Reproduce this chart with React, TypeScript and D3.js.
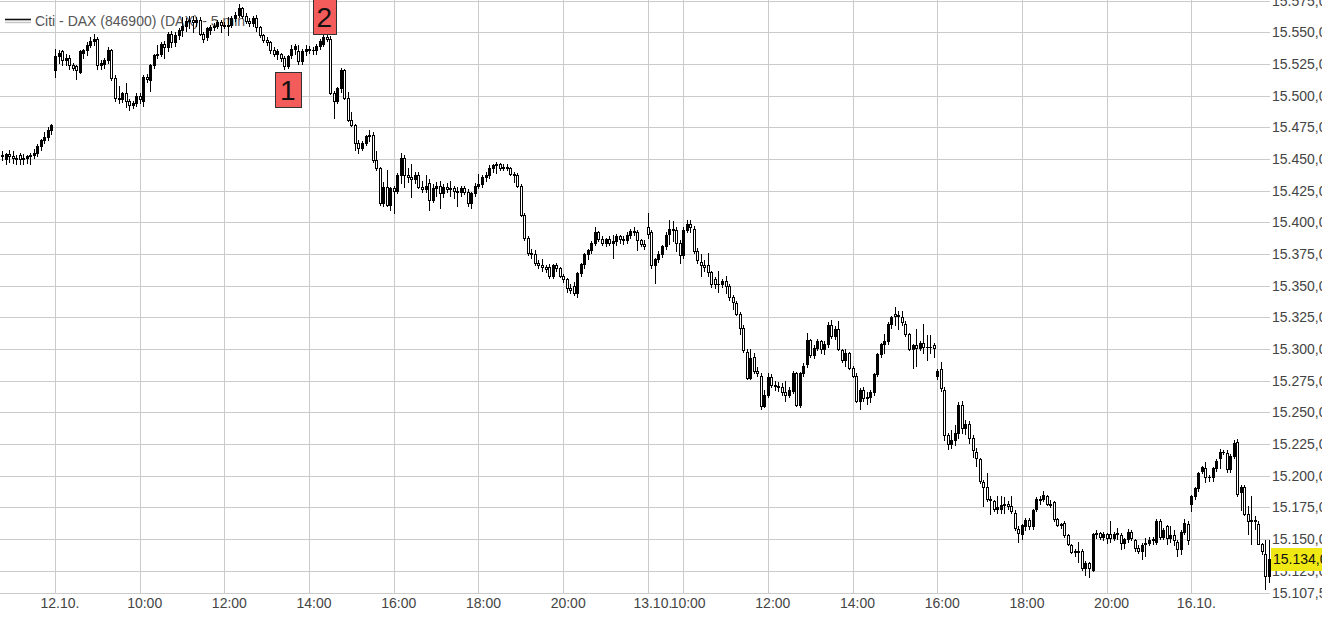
import React from 'react';
import * as d3 from 'd3';

type OHLC = [number, number, number, number]; // open, high, low, close

// 11.10. evening (5 min)
const eveningCandles: OHLC[] = [
  [15453,15456,15449,15452],[15450,15455,15446,15454],[15454,15457,15448,15452],[15452,15456,15447,15451],
  [15451,15453,15446,15450],[15453,15455,15446,15450],[15450,15454,15446,15451],[15451,15453,15447,15452],
  [15452,15455,15446,15453],[15453,15458,15451,15455],[15455,15462,15452,15460],[15460,15466,15457,15465],
  [15465,15471,15463,15467],[15467,15475,15465,15473],[15473,15478,15470,15477],
];

// 12.10.
const day1Candles: OHLC[] = [
  [15520,15537,15515,15531],[15531,15536,15526,15534],[15535,15536,15524,15528],[15528,15533,15524,15530],
  [15530,15532,15521,15524],[15524,15526,15520,15522],[15523,15524,15513,15520],[15519,15536,15518,15535],
  [15534,15537,15530,15536],[15536,15542,15532,15540],[15540,15546,15538,15543],[15543,15549,15540,15545],
  [15545,15546,15521,15524],[15524,15528,15521,15526],[15525,15530,15522,15528],[15528,15538,15526,15536],
  [15536,15537,15512,15514],[15514,15516,15496,15498],[15498,15508,15494,15497],[15497,15503,15495,15502],
  [15502,15510,15491,15496],[15496,15497,15489,15493],[15493,15496,15490,15494],[15494,15502,15492,15500],
  [15500,15502,15494,15497],[15496,15516,15492,15515],[15515,15517,15511,15513],[15512,15525,15504,15524],
  [15524,15533,15522,15532],[15532,15540,15530,15533],[15533,15542,15531,15541],[15541,15543,15530,15538],
  [15538,15550,15535,15549],[15549,15551,15538,15542],[15542,15550,15539,15548],[15548,15553,15545,15552],
  [15552,15562,15547,15555],[15555,15561,15551,15559],[15559,15563,15553,15560],[15560,15563,15550,15558],
  [15558,15562,15555,15560],[15560,15562,15548,15549],[15549,15550,15542,15545],[15546,15554,15544,15553],
  [15552,15556,15549,15554],[15554,15557,15552,15555],[15555,15560,15553,15558],[15558,15560,15550,15556],
  [15556,15558,15553,15555],[15555,15562,15548,15556],[15556,15563,15554,15561],[15561,15566,15559,15564],
  [15564,15572,15562,15569],[15569,15570,15561,15563],[15563,15565,15557,15559],[15559,15561,15555,15557],
  [15557,15563,15555,15561],[15561,15564,15551,15554],[15554,15555,15546,15548],[15548,15549,15542,15544],
  [15544,15546,15540,15542],[15542,15543,15534,15536],[15536,15538,15531,15533],[15533,15537,15529,15535],
  [15533,15534,15527,15530],[15530,15531,15521,15523],[15523,15532,15522,15531],[15532,15540,15530,15537],
  [15537,15541,15533,15539],[15535,15540,15525,15527],[15527,15537,15525,15535],[15535,15540,15532,15537],
  [15537,15539,15534,15536],[15536,15538,15533,15536],[15536,15541,15533,15539],[15539,15545,15537,15543],
  [15541,15548,15539,15546],[15546,15549,15543,15545],[15545,15547,15501,15502],[15502,15504,15482,15496],
  [15496,15507,15494,15506],[15506,15522,15503,15520],[15520,15521,15497,15498],[15498,15503,15480,15481],
  [15481,15487,15476,15477],[15477,15478,15457,15463],[15463,15465,15455,15459],[15459,15464,15457,15463],
  [15463,15469,15461,15468],[15468,15473,15464,15469],[15469,15471,15448,15449],[15449,15456,15441,15443],
  [15443,15444,15414,15415],[15415,15432,15413,15428],[15428,15441,15413,15414],[15414,15428,15410,15427],
  [15427,15429,15407,15425],[15425,15439,15423,15437],[15437,15455,15431,15451],[15451,15453,15428,15437],
  [15437,15443,15432,15436],[15436,15446,15420,15434],[15434,15440,15431,15437],[15437,15440,15427,15428],
  [15428,15433,15424,15426],[15426,15437,15424,15429],[15431,15434,15410,15418],[15418,15430,15416,15427],
  [15427,15432,15421,15429],[15429,15433,15411,15423],[15423,15430,15420,15428],[15428,15431,15424,15426],
  [15426,15433,15421,15427],[15427,15429,15419,15425],[15425,15428,15413,15424],[15424,15429,15421,15427],
  [15427,15429,15422,15424],[15424,15426,15413,15415],[15415,15424,15411,15423],[15423,15431,15421,15429],
  [15429,15438,15427,15430],[15430,15437,15428,15436],[15436,15440,15433,15437],[15437,15445,15435,15443],
  [15443,15446,15440,15445],[15445,15448,15439,15446],[15446,15447,15441,15443],[15443,15446,15441,15444],
  [15444,15446,15441,15443],[15443,15444,15437,15438],[15438,15440,15432,15437],[15437,15439,15428,15429],
  [15429,15430,15405,15406],[15406,15407,15386,15388],[15388,15389,15374,15376],[15376,15379,15372,15375],
  [15375,15378,15366,15368],[15368,15370,15364,15366],[15366,15371,15362,15365],[15365,15366,15361,15363],
  [15365,15367,15356,15358],[15358,15367,15356,15366],[15366,15368,15362,15364],[15364,15365,15357,15358],
  [15358,15359,15353,15355],[15355,15356,15345,15348],[15348,15351,15344,15347],[15350,15353,15343,15344],
  [15344,15361,15341,15360],[15360,15368,15358,15367],[15367,15376,15364,15375],[15375,15379,15371,15378],
  [15378,15385,15376,15384],[15384,15396,15382,15392],[15392,15393,15385,15387],[15387,15389,15382,15384],
  [15384,15388,15381,15387],[15387,15389,15382,15384],[15384,15390,15372,15385],[15385,15391,15382,15389],
  [15389,15390,15384,15387],[15387,15389,15383,15386],[15386,15392,15384,15390],[15390,15395,15388,15393],
  [15393,15396,15390,15392],[15392,15394,15378,15386],[15386,15387,15381,15383],[15383,15386,15379,15381],
];

// 13.10.
const day2Candles: OHLC[] = [
  [15396,15407,15388,15391],[15392,15394,15364,15366],[15366,15372,15352,15371],[15371,15377,15369,15375],
  [15375,15382,15373,15381],[15381,15392,15379,15390],[15391,15402,15383,15395],[15395,15401,15385,15394],
  [15394,15396,15377,15384],[15384,15386,15368,15374],[15374,15396,15372,15394],[15394,15402,15392,15399],
  [15399,15402,15392,15396],[15395,15397,15376,15377],[15377,15380,15368,15370],[15369,15375,15358,15366],
  [15366,15370,15362,15365],[15366,15376,15358,15361],[15361,15362,15349,15351],[15355,15357,15348,15351],
  [15351,15362,15345,15351],[15351,15355,15349,15354],[15354,15358,15344,15350],[15350,15351,15339,15341],
  [15341,15343,15332,15337],[15336,15338,15327,15328],[15328,15329,15312,15317],[15317,15319,15298,15299],
  [15298,15300,15276,15277],[15277,15300,15276,15293],[15294,15297,15281,15283],[15283,15286,15279,15281],
  [15279,15281,15253,15255],[15255,15268,15254,15264],[15264,15281,15262,15278],[15278,15280,15270,15272],
  [15272,15275,15268,15271],[15271,15274,15267,15270],[15270,15273,15264,15266],[15266,15275,15259,15264],
  [15264,15270,15262,15268],[15267,15283,15265,15281],[15281,15282,15255,15256],[15256,15282,15254,15281],
  [15281,15289,15279,15287],[15288,15313,15286,15307],[15307,15308,15294,15295],[15295,15303,15293,15301],
  [15301,15308,15299,15306],[15306,15307,15297,15300],[15300,15306,15296,15304],[15304,15321,15302,15319],
  [15319,15323,15309,15310],[15310,15318,15308,15316],[15316,15322,15299,15300],[15299,15300,15290,15291],
  [15291,15300,15287,15297],[15297,15298,15284,15285],[15285,15287,15278,15279],[15279,15281,15258,15259],
  [15259,15269,15253,15268],[15268,15270,15259,15261],[15261,15266,15257,15262],[15262,15268,15258,15266],
  [15266,15281,15264,15280],[15280,15297,15279,15296],[15296,15305,15294,15304],[15304,15312,15297,15306],
  [15306,15321,15304,15320],[15320,15326,15317,15325],[15328,15333,15319,15326],[15326,15330,15316,15327],
  [15325,15330,15319,15321],[15320,15322,15310,15312],[15312,15313,15299,15300],[15300,15304,15285,15303],
  [15303,15316,15287,15301],[15301,15306,15299,15305],[15305,15320,15297,15302],[15302,15311,15291,15302],
  [15302,15311,15297,15302],[15303,15305,15294,15301],[15279,15284,15276,15283],[15284,15290,15267,15269],
  [15268,15270,15228,15232],[15232,15234,15221,15225],[15225,15236,15222,15228],[15228,15240,15224,15234],
  [15234,15258,15230,15256],[15256,15259,15234,15238],[15238,15244,15233,15241],[15241,15243,15226,15230],
  [15230,15232,15215,15220],[15219,15222,15208,15214],[15213,15214,15194,15196],[15195,15197,15176,15191],
  [15191,15202,15180,15182],[15182,15184,15170,15181],[15180,15181,15172,15174],[15174,15184,15171,15175],
  [15174,15184,15171,15177],[15177,15183,15171,15178],[15178,15180,15174,15176],[15176,15184,15171,15172],
  [15171,15173,15157,15159],[15158,15160,15148,15155],[15154,15162,15150,15161],[15160,15167,15157,15165],
  [15165,15167,15158,15160],[15160,15174,15158,15173],[15174,15183,15172,15182],[15182,15184,15178,15181],
  [15182,15188,15180,15185],[15184,15185,15177,15178],[15178,15181,15175,15177],[15179,15180,15164,15166],
  [15166,15167,15160,15161],[15161,15163,15159,15162],[15163,15164,15152,15153],[15153,15154,15145,15146],
  [15145,15146,15139,15140],[15140,15142,15137,15141],[15141,15148,15132,15140],[15141,15142,15126,15127],
  [15127,15133,15122,15131],[15131,15132,15120,15127],[15126,15155,15125,15154],[15154,15157,15151,15155],
  [15155,15156,15150,15152],[15152,15156,15149,15154],[15154,15155,15147,15151],[15154,15164,15148,15151],
  [15151,15156,15149,15154],[15154,15159,15150,15155],[15153,15155,15142,15147],[15147,15151,15143,15150],
  [15150,15158,15148,15156],[15156,15157,15149,15151],[15149,15150,15141,15143],[15143,15145,15139,15141],
  [15141,15147,15134,15145],[15146,15151,15137,15147],[15147,15152,15145,15149],[15149,15152,15146,15150],
  [15148,15166,15146,15164],[15164,15166,15150,15152],[15152,15159,15150,15157],[15160,15161,15146,15151],
  [15151,15160,15148,15153],[15153,15157,15145,15149],[15148,15149,15137,15142],[15142,15157,15138,15156],
  [15156,15166,15154,15163],[15162,15164,15146,15149],
];

// 16.10.
const day3Candles: OHLC[] = [
  [15178,15185,15172,15184],[15184,15191,15182,15190],[15190,15203,15188,15202],[15204,15208,15202,15207],
  [15206,15211,15195,15199],[15199,15201,15196,15199],[15199,15207,15196,15206],[15206,15213,15204,15212],
  [15214,15221,15206,15219],[15219,15220,15217,15219],[15218,15220,15203,15205],[15205,15217,15203,15216],
  [15216,15228,15214,15226],[15227,15229,15184,15186],[15187,15193,15173,15191],[15191,15193,15169,15170],
  [15170,15176,15154,15164],[15164,15184,15146,15165],[15165,15168,15158,15164],[15162,15164,15146,15146],
  [15146,15147,15138,15141],[15138,15149,15111,15121],[15121,15149,15116,15134],
];

const xTickIndex = [15, 39, 63, 87, 111, 135, 159, 183, 193, 217, 241, 265, 289, 313, 337];
const xTickLabels = ['12.10.', '10:00', '12:00', '14:00', '16:00', '18:00', '20:00', '13.10.', '10:00', '12:00', '14:00', '16:00', '18:00', '20:00', '16.10.'];
const yTickValues = [15107.5, 15125, 15150, 15175, 15200, 15225, 15250, 15275, 15300, 15325, 15350, 15375, 15400, 15425, 15450, 15475, 15500, 15525, 15550, 15575];
const lastPrice = 15134;
const legendLabel = 'Citi - DAX (846900) (DAX) - 5 min';
const markers = [
  { label: '1', index: 81, price: 15521, side: 'below' },
  { label: '2', index: 91.3, price: 15549, side: 'above' },
];

const W = 1322;
const H = 618;
const plotRight = 1270;
const plotBottom = 593;

const deLocale = d3.formatLocale({ decimal: ',', thousands: '.', grouping: [3], currency: ['', ' €'] });
const fmt = deLocale.format(',.1f');

export default function App() {
  const candles = [...eveningCandles, ...day1Candles, ...day2Candles, ...day3Candles].map((d, i) => ({
    i, o: d[0], h: d[1], l: d[2], c: d[3],
  }));
  const n = candles.length;
  const xs = d3.scaleLinear().domain([0, n - 1]).range([2.06, 2.06 + (n - 1) * 3.529]);
  const ys = d3.scaleLinear().domain([15107.5, 15575]).range([plotBottom, 0.6]);
  const font = 'Arial, "Liberation Sans", Helvetica, sans-serif';

  return (
    <svg width={W} height={H} style={{ position: 'absolute', left: 0, top: 0, background: '#fff' }} fontFamily={font}>
      <rect x={0} y={0} width={W} height={H} fill="#fff" />
      {/* horizontal grid */}
      {yTickValues.map((v) => {
        const y = Math.round(ys(v)) + 0.5;
        return <line key={'h' + v} x1={0} x2={plotRight} y1={y} y2={y} stroke="#cbcbcb" strokeWidth={1} />;
      })}
      {/* vertical grid */}
      {xTickIndex.map((idx) => {
        const x = Math.round(xs(idx)) + 0.5;
        return <line key={'v' + idx} x1={x} x2={x} y1={0} y2={plotBottom} stroke="#cbcbcb" strokeWidth={1} />;
      })}
      {/* legend */}
      <line x1={5} x2={31} y1={19.5} y2={19.5} stroke="#111" strokeWidth={1.6} />
      <line x1={5} x2={31} y1={22.5} y2={22.5} stroke="#c4c4c4" strokeWidth={1.4} />
      <text x={35} y={26} fontSize={14} fill="#555">{legendLabel}</text>
      {/* candles */}
      {candles.map((d) => {
        const cx = Math.round(xs(d.i));
        const yH = Math.round(ys(d.h));
        const yL = Math.round(ys(d.l));
        const top = Math.round(Math.min(ys(d.o), ys(d.c)));
        const bot = Math.round(Math.max(ys(d.o), ys(d.c)));
        const up = d.c > d.o;
        return (
          <g key={d.i}>
            <line x1={cx + 0.5} x2={cx + 0.5} y1={yH} y2={yL + 1} stroke="#000" strokeWidth={1} />
            {bot - top < 1 ? (
              <line x1={cx - 1} x2={cx + 2} y1={top + 0.5} y2={top + 0.5} stroke="#000" strokeWidth={1} />
            ) : (
              <rect x={cx - 0.5} y={top + 0.5} width={2} height={bot - top} fill={up ? '#000' : '#fff'} stroke="#000" strokeWidth={1} />
            )}
          </g>
        );
      })}
      {/* markers */}
      {markers.map((m) => {
        const cx = xs(m.index);
        const w = m.label === '1' ? 26 : 23;
        const h = 35;
        const yTop = m.side === 'below' ? Math.round(ys(m.price)) + 3 : Math.round(ys(m.price)) - h;
        return (
          <g key={m.label}>
            <rect x={Math.round(cx - w / 2) + 0.5} y={yTop + 0.5} width={w} height={h} fill="#f45b5b" stroke="#333" strokeWidth={1} />
            <text x={cx} y={yTop + h / 2 + 10} fontSize={28} textAnchor="middle" fill="#111">{m.label}</text>
          </g>
        );
      })}
      {/* y labels */}
      {yTickValues.map((v) => (
        <text key={'yl' + v} x={1272} y={ys(v)} dy="0.35em" fontSize={14} fill="#444">{fmt(v)}</text>
      ))}
      {/* x labels */}
      {xTickIndex.map((idx, k) => (
        <text key={'xl' + idx} x={xs(idx) + 5} y={608} fontSize={14} fill="#444" textAnchor="middle">{xTickLabels[k]}</text>
      ))}
      {/* last price */}
      <rect x={1271} y={Math.round(ys(lastPrice)) - 11} width={W - 1271} height={23} fill="#efe813" />
      <text x={1273} y={ys(lastPrice)} dy="0.35em" fontSize={14} fill="#111">{fmt(lastPrice)}</text>
    </svg>
  );
}
